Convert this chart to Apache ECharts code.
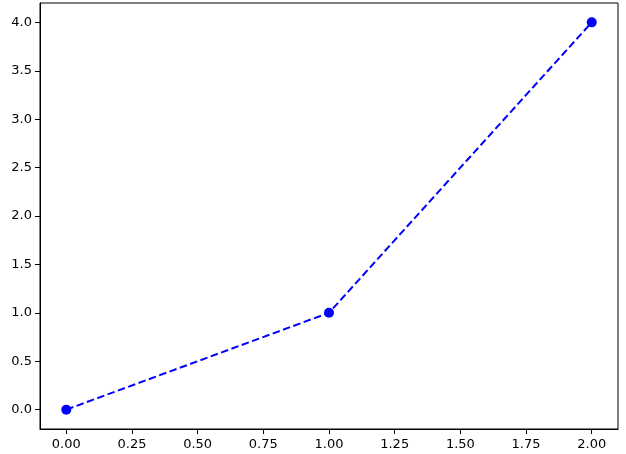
<!DOCTYPE html>
<html>
<head>
<meta charset="utf-8">
<script src="https://cdn.jsdelivr.net/npm/echarts@6/dist/echarts.min.js"></script>
<style>html,body{margin:0;padding:0;background:#fff}#c{width:626px;height:454px}</style>
</head>
<body>
<div id="c"></div>
<script>
const xValues = [0, 1, 2];
const yValues = [0, 1, 4];
const xTicks = [0, 0.25, 0.5, 0.75, 1.0, 1.25, 1.5, 1.75, 2.0];
const yTicks = [0, 0.5, 1.0, 1.5, 2.0, 2.5, 3.0, 3.5, 4.0];

const chart = echarts.init(document.getElementById('c'), null, {renderer: 'canvas'});
const font = {fontFamily: 'DejaVu Sans', fontSize: 13, color: '#000'};
chart.setOption({
  animation: false,
  backgroundColor: '#fff',
  grid: {left: 40, right: 8, top: 3, bottom: 25, show: true, borderColor: '#000', borderWidth: 1, containLabel: false},
  xAxis: {
    type: 'value', min: -0.1, max: 2.1,
    axisLine: {show: true, onZero: false, lineStyle: {color: '#000', width: 1}},
    axisTick: {show: true, length: 5, lineStyle: {color: '#000'}, customValues: xTicks},
    axisLabel: Object.assign({margin: 9, customValues: xTicks, formatter: v => v.toFixed(2)}, font),
    splitLine: {show: false}
  },
  yAxis: {
    type: 'value', min: -0.2, max: 4.2,
    axisLine: {show: true, onZero: false, lineStyle: {color: '#000', width: 1}},
    axisTick: {show: true, length: 5, lineStyle: {color: '#000'}, customValues: yTicks},
    axisLabel: Object.assign({margin: 8, customValues: yTicks, formatter: v => v.toFixed(1)}, font),
    splitLine: {show: false}
  },
  series: [{
    type: 'line',
    data: xValues.map((x, i) => [x, yValues[i]]),
    symbol: 'circle', symbolSize: 10,
    itemStyle: {color: '#0000ff'},
    lineStyle: {color: '#0000ff', width: 2, type: [7.5, 3.5]}
  }]
});
</script>
</body>
</html>
